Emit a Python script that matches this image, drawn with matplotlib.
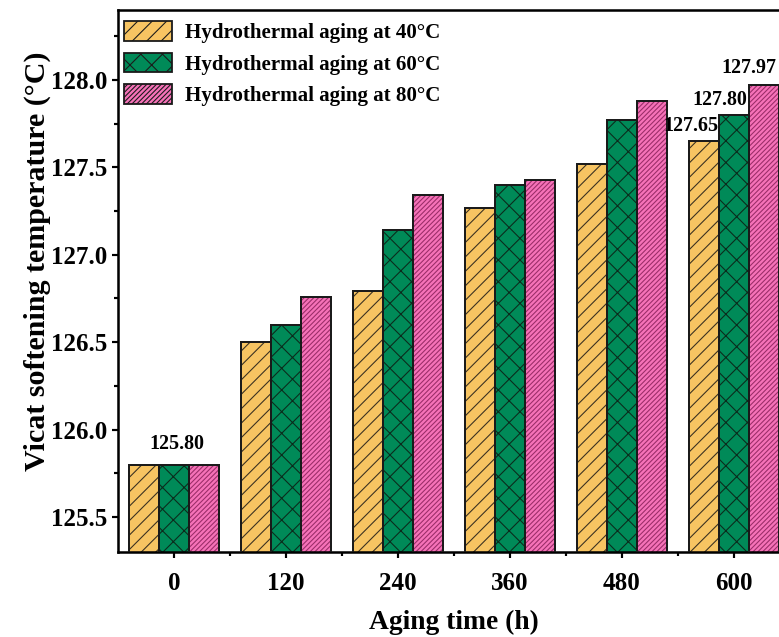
import numpy as np
import matplotlib
matplotlib.use("Agg")
import matplotlib.pyplot as plt
from matplotlib.patches import Patch
from matplotlib.ticker import MultipleLocator, FormatStrFormatter

aging_time = ["0", "120", "240", "360", "480", "600"]
series_names = ["Hydrothermal aging at 40°C",
                "Hydrothermal aging at 60°C",
                "Hydrothermal aging at 80°C"]
vicat_40 = [125.80, 126.50, 126.79, 127.27, 127.52, 127.65]
vicat_60 = [125.80, 126.60, 127.14, 127.40, 127.77, 127.80]
vicat_80 = [125.80, 126.76, 127.34, 127.43, 127.88, 127.97]

colors = ["#F7C462", "#008A58", "#F672B8"]
hatches = ["///", "xx", "/////////"]
hatch_colors = ["#3a3020", "#0b2b1c", "#9a2d68"]

plt.rcParams["font.family"] = ["Liberation Serif", "DejaVu Serif"]
plt.rcParams["font.weight"] = "bold"
plt.rcParams["hatch.linewidth"] = 0.6

dpi = 130


def pt(px):
    return px * 72 / dpi


fig = plt.figure(figsize=(779 / dpi, 637 / dpi), dpi=dpi)
# axes run past the right edge of the canvas
ax = fig.add_axes([118 / 779, 85 / 637, 672 / 779, 542 / 637])

x = np.arange(len(aging_time))
w = 0.268
data = [vicat_40, vicat_60, vicat_80]
for i, vals in enumerate(data):
    pos = x + (i - 1) * w
    ax.bar(pos, vals, w, color=colors[i], hatch=hatches[i],
           edgecolor=hatch_colors[i], linewidth=0, zorder=2)
    ax.bar(pos, vals, w, fill=False, edgecolor="#1a1a1a", linewidth=1.1, zorder=3)

ax.set_xlim(-0.5, 5.5)
ax.set_ylim(125.3, 128.4)

ax.set_xticks(x)
ax.set_xticklabels(aging_time)
ax.set_xticks(x + 0.5, minor=True)
ax.yaxis.set_major_locator(MultipleLocator(0.5))
ax.yaxis.set_minor_locator(MultipleLocator(0.25))
ax.yaxis.set_major_formatter(FormatStrFormatter("%.1f"))

ax.tick_params(which="major", direction="out", length=pt(6), width=1.2,
               labelsize=pt(25))
ax.tick_params(which="minor", direction="out", length=pt(4), width=1.2)
ax.tick_params(axis="x", which="major", pad=pt(14))
ax.tick_params(axis="y", which="major", pad=pt(5))
ax.tick_params(top=False, right=False)
for s in ["left", "bottom", "top"]:
    ax.spines[s].set_linewidth(1.4)
ax.spines["right"].set_visible(False)

ax.set_xlabel("Aging time (h)", fontsize=pt(27.5), fontweight="bold", labelpad=pt(15))
ax.set_ylabel("Vicat softening temperature (°C)", fontsize=pt(30), fontweight="bold")
ax.yaxis.set_label_coords(-0.1, 0.537)

# value labels
fs_val = pt(20)
ax.text(x[0] + 0.03, vicat_40[0] + 0.06, "125.80", ha="center", va="bottom", fontsize=fs_val)
ax.text(x[5] - 0.5 * w, vicat_40[5] + 0.03, "127.65", ha="right", va="bottom", fontsize=fs_val)
ax.text(x[5] - 0.13, vicat_60[5] + 0.03, "127.80", ha="center", va="bottom", fontsize=fs_val)
ax.text(x[5] + 1.42 * w, vicat_80[5] + 0.04, "127.97", ha="right", va="bottom", fontsize=fs_val)

handles = [Patch(facecolor=colors[i], hatch=hatches[i], edgecolor="#1a1a1a", linewidth=1.0)
           for i in range(3)]
ax.legend(handles, series_names, loc="upper left", bbox_to_anchor=(-0.013, 1.006),
          frameon=False, fontsize=pt(21), handlelength=2.3, handleheight=1.05,
          labelspacing=0.45, handletextpad=0.6, borderaxespad=0.3)

fig.savefig("out.png", dpi=dpi)
